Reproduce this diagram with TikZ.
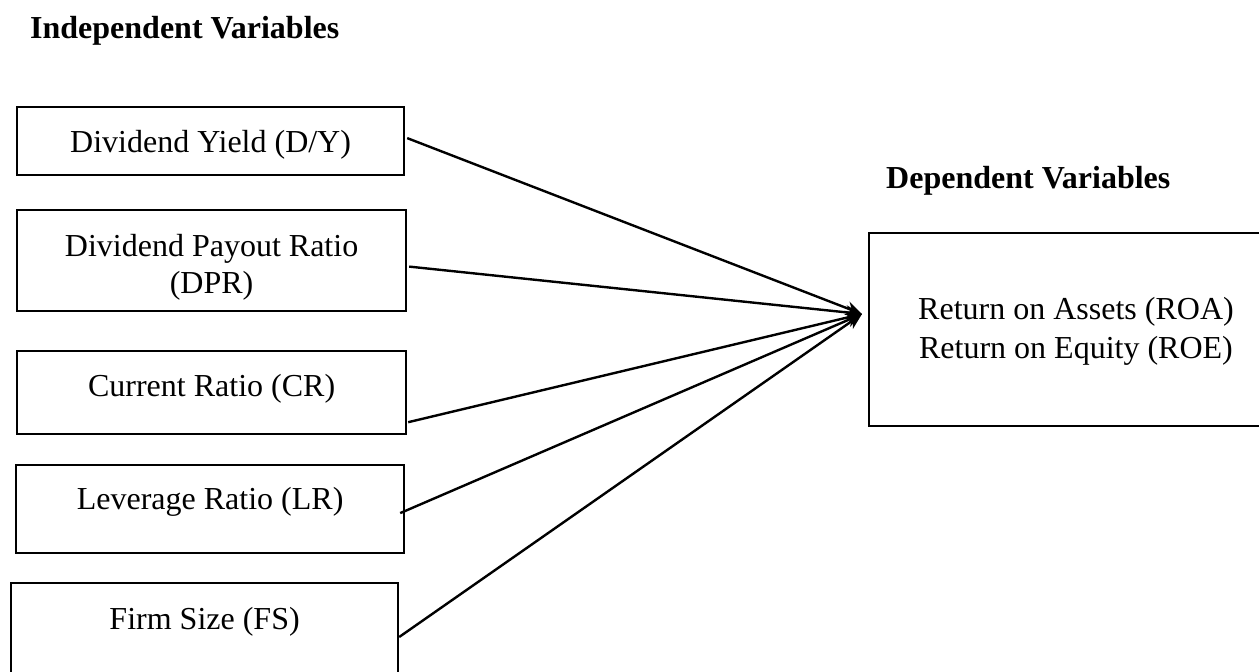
\documentclass[tikz,border=0pt]{standalone}
\usepackage{fontspec}
\setmainfont{Liberation Serif}
\usetikzlibrary{arrows.meta}
\begin{document}
\begin{tikzpicture}[x=1pt,y=-1pt,
  box/.style={draw, line width=2.2pt, rectangle, anchor=north west, inner sep=0pt},
  txt/.style={font=\fontsize{32}{37}\selectfont, inner sep=0pt, align=center},
  ttl/.style={font=\fontsize{32}{40}\selectfont\bfseries, inner sep=0pt, anchor=base west},
  conn/.style={line width=2.4pt, -{Stealth[length=16pt,width=14pt]}}]
\useasboundingbox (0,0) rectangle (1259,672);
% titles
\node[ttl] (tin) at (30,38) {Independent Variables};
\node[ttl] (tdep) at (886,188) {Dependent Variables};
% left boxes
\node[box, minimum width=387pt, minimum height=68pt] (b1) at (16,106) {};
\node[txt] (t1) at ([yshift=-39]b1.north) {Dividend Yield (D/Y)};
\node[box, minimum width=389pt, minimum height=101pt] (b2) at (16,209) {};
\node[txt, anchor=north] (t2) at ([yshift=-25]b2.north) {Dividend Payout Ratio\\(DPR)};
\node[box, minimum width=389pt, minimum height=83pt] (b3) at (16,350) {};
\node[txt] (t3) at ([yshift=-39]b3.north) {Current Ratio (CR)};
\node[box, minimum width=388pt, minimum height=88pt] (b4) at (15,464) {};
\node[txt] (t4) at ([yshift=-38]b4.north) {Leverage Ratio (LR)};
\node[box, minimum width=387pt, minimum height=100pt] (b5) at (10,582) {};
\node[txt] (t5) at ([yshift=-40]b5.north) {Firm Size (FS)};
% right box
\node[box, minimum width=400pt, minimum height=193pt] (r) at (868,232) {};
\node[txt, anchor=base] (r1) at (1076,319) {Return on Assets (ROA)};
\node[txt, anchor=base] (r2) at (1076,358) {Return on Equity (ROE)};
% connectors
\coordinate (tip) at (862,314);
\draw[conn] ([xshift=2pt,yshift=3pt]b1.east) -- (tip);
\draw[conn] ([xshift=2pt,yshift=-6pt]b2.east) -- (tip);
\draw[conn] ([xshift=1pt,yshift=13pt]b3.south east) -- (tip);
\draw[conn] ([xshift=-5pt,yshift=-4pt]b4.east) -- (tip);
\draw[conn] ([yshift=-55pt]b5.north east) -- (tip);
\end{tikzpicture}
\end{document}
